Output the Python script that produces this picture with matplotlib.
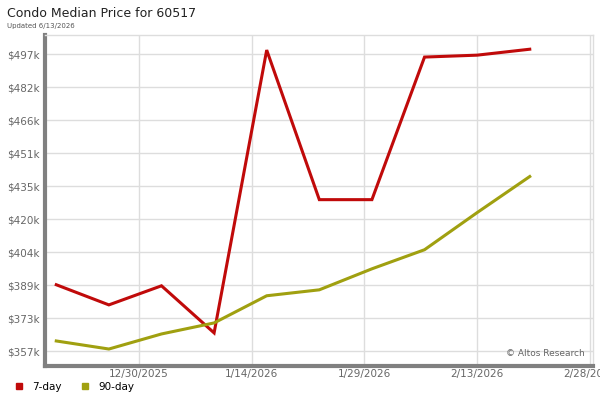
import pandas as pd
import matplotlib.pyplot as plt
import matplotlib.dates as mdates
from matplotlib.ticker import FuncFormatter

# weekly median prices
dates = pd.to_datetime(['2025-12-19', '2025-12-26', '2026-01-02', '2026-01-09', '2026-01-16',
                        '2026-01-23', '2026-01-30', '2026-02-06', '2026-02-13', '2026-02-20'])
price_7day = [388700, 379200, 388200, 366000, 499300, 428800, 428800, 496000, 496900, 499700]
price_90day = [362200, 358400, 365500, 370700, 383500, 386300, 396200, 405200, 422700, 439700]

ytick_vals = [357400 + i * 15560 for i in range(10)]
xtick_dates = pd.to_datetime(['2025-12-30', '2026-01-14', '2026-01-29', '2026-02-13', '2026-02-28'])

fig = plt.figure(figsize=(6, 4), dpi=100)
ax = fig.add_axes([45 / 600, 1 - 366 / 400, 548 / 600, 331 / 400])

ax.plot(dates, price_7day, color='#C00A0A', linewidth=2.2, solid_joinstyle='miter', label='7-day', zorder=3)
ax.plot(dates, price_90day, color='#A0A010', linewidth=2.2, solid_joinstyle='miter', label='90-day', zorder=3)

ax.set_xlim(pd.Timestamp('2025-12-17 12:00'), pd.Timestamp('2026-02-28 10:00'))
ax.set_ylim(350400, 506400)

ax.set_yticks(ytick_vals)
ax.yaxis.set_major_formatter(FuncFormatter(lambda v, p: f'${v / 1000:.0f}k'))
ax.set_xticks(xtick_dates)
ax.xaxis.set_major_formatter(mdates.DateFormatter('%-m/%-d/%Y'))

ax.grid(True, color='#dddddd', linewidth=1)
ax.set_axisbelow(True)
ax.tick_params(axis='both', length=0, labelsize=7.5, colors='#666666')
ax.tick_params(axis='x', pad=2)
ax.tick_params(axis='y', pad=4)

for side in ['top', 'right']:
    ax.spines[side].set_color('#dddddd')
    ax.spines[side].set_linewidth(1)
for side in ['left', 'bottom']:
    ax.spines[side].set_color('#808080')
    ax.spines[side].set_linewidth(3)

fig.text(0.012, 0.966, 'Condo Median Price for 60517', fontsize=9, color='#222222', va='center')
fig.text(0.012, 0.936, 'Updated 6/13/2026', fontsize=5, color='#555555', va='center')
ax.text(0.985, 0.025, '\u00a9 Altos Research', transform=ax.transAxes, ha='right', va='bottom',
        fontsize=6.5, color='#666666')

fig.legend(loc='lower left', bbox_to_anchor=(0.0, 0.0), ncol=2, frameon=False, fontsize=7.5,
           handles=[plt.Line2D([], [], marker='s', linestyle='', color='#C00A0A', markersize=5),
                    plt.Line2D([], [], marker='s', linestyle='', color='#A0A010', markersize=5)],
           labels=['7-day', '90-day'], handletextpad=0.3, columnspacing=1.2, borderpad=0.3)

plt.savefig('out.png', dpi=100)
